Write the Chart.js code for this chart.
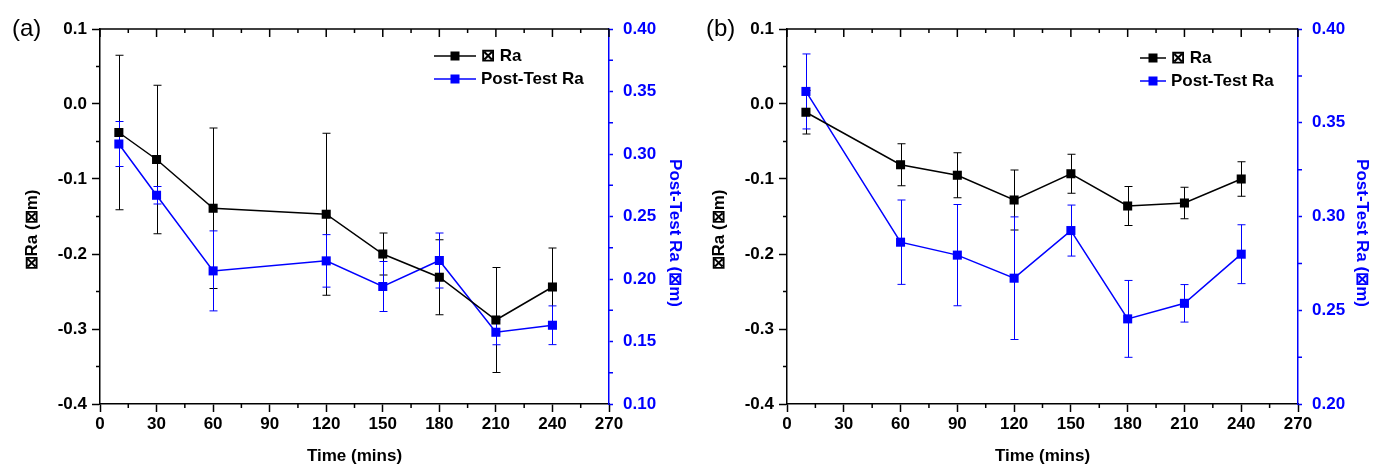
<!DOCTYPE html>
<html>
<head>
<meta charset="utf-8">
<script src="https://cdn.jsdelivr.net/npm/chart.js@4.4.1/dist/chart.umd.min.js"></script>
<style>
  html, body { margin: 0; padding: 0; background: #fff; overflow: hidden; }
  #wrap { position: relative; width: 1373px; height: 464px; }
  canvas { position: absolute; top: 0; }
  #chartA { left: 0; }
  #chartB { left: 687px; }
</style>
</head>
<body>
<div id="wrap">
  <canvas id="chartA" width="686" height="464"></canvas>
  <canvas id="chartB" width="686" height="464"></canvas>
</div>
<script>
// data
const timesA = [10, 30, 60, 120, 150, 180, 210, 240];
const deltaRaA = [-0.038, -0.074, -0.139, -0.147, -0.200, -0.231, -0.288, -0.244];
const deltaRaErrA = [0.103, 0.099, 0.107, 0.108, 0.028, 0.050, 0.070, 0.052];
const postRaA = [0.308, 0.267, 0.2065, 0.2145, 0.194, 0.2148, 0.1574, 0.163];
const postRaErrA = [0.018, 0.007, 0.032, 0.021, 0.020, 0.022, 0.010, 0.0155];

const timesB = [10, 60, 90, 120, 150, 180, 210, 240];
const deltaRaB = [-0.011, -0.081, -0.095, -0.128, -0.093, -0.136, -0.132, -0.100];
const deltaRaErrB = [0.029, 0.028, 0.030, 0.040, 0.026, 0.026, 0.021, 0.023];
const postRaB = [0.3667, 0.2863, 0.2794, 0.2671, 0.2925, 0.2454, 0.2537, 0.2799];
const postRaErrB = [0.020, 0.0225, 0.027, 0.0327, 0.0136, 0.0205, 0.010, 0.0157];

const xTickValues = [0, 30, 60, 90, 120, 150, 180, 210, 240, 270];
const leftTickValues = [-0.4, -0.3, -0.2, -0.1, 0.0, 0.1];
const rightTickValuesA = [0.10, 0.15, 0.20, 0.25, 0.30, 0.35, 0.40];
const rightTickValuesB = [0.20, 0.25, 0.30, 0.35, 0.40];

const BLUE = '#0000ff';
const FONT = '"Liberation Sans", Arial, sans-serif';

function mids(arr) {
  const out = [];
  for (let i = 0; i < arr.length - 1; i++) out.push((arr[i] + arr[i + 1]) / 2);
  return out;
}

const decorPlugin = {
  id: 'decor',
  beforeDatasetsDraw(chart) {
    const ctx = chart.ctx;
    chart.data.datasets.forEach((ds, di) => {
      const meta = chart.getDatasetMeta(di);
      const ys = chart.scales[ds.yAxisID];
      ctx.save();
      ctx.strokeStyle = ds.borderColor;
      ctx.lineWidth = 1;
      meta.data.forEach((pt, i) => {
        const v = ds.data[i].y, e = ds.errors[i];
        const x = Math.round(pt.x) + 0.5;
        const y1 = ys.getPixelForValue(v + e), y2 = ys.getPixelForValue(v - e);
        ctx.beginPath();
        ctx.moveTo(x, y1); ctx.lineTo(x, y2);
        ctx.moveTo(x - 4, y1); ctx.lineTo(x + 4, y1);
        ctx.moveTo(x - 4, y2); ctx.lineTo(x + 4, y2);
        ctx.stroke();
      });
      ctx.restore();
    });
  },
  afterDraw(chart, args, opts) {
    const ctx = chart.ctx;
    const { left, right, top, bottom } = chart.chartArea;
    const xs = chart.scales.x, yl = chart.scales.yL, yr = chart.scales.yR;
    ctx.save();
    // top frame with inward ticks
    ctx.strokeStyle = '#000';
    ctx.lineWidth = 1.5;
    ctx.beginPath();
    ctx.moveTo(left, top); ctx.lineTo(right, top);
    xTickValues.forEach(v => { const x = xs.getPixelForValue(v); ctx.moveTo(x, top); ctx.lineTo(x, top + 8); });
    mids(xTickValues).forEach(v => { const x = xs.getPixelForValue(v); ctx.moveTo(x, top); ctx.lineTo(x, top + 4); });
    // minor ticks bottom / left
    mids(xTickValues).forEach(v => { const x = xs.getPixelForValue(v); ctx.moveTo(x, bottom); ctx.lineTo(x, bottom + 4); });
    mids(leftTickValues).forEach(v => { const y = yl.getPixelForValue(v); ctx.moveTo(left, y); ctx.lineTo(left - 4, y); });
    ctx.stroke();
    ctx.strokeStyle = BLUE;
    ctx.beginPath();
    mids(opts.rightTicks).forEach(v => { const y = yr.getPixelForValue(v); ctx.moveTo(right, y); ctx.lineTo(right + 4, y); });
    ctx.stroke();

    // legend
    ctx.font = 'bold 17px ' + FONT;
    ctx.textBaseline = 'middle';
    ctx.textAlign = 'left';
    chart.data.datasets.forEach((ds, i) => {
      const y = opts.legendY[i];
      ctx.strokeStyle = ds.borderColor;
      ctx.lineWidth = 1.5;
      ctx.beginPath();
      ctx.moveTo(opts.legendX, y); ctx.lineTo(opts.legendX + opts.legendLen, y);
      ctx.stroke();
      ctx.fillStyle = ds.borderColor;
      const cx = opts.legendX + opts.legendLen / 2;
      ctx.fillRect(cx - 4.5, y - 4.5, 9, 9);
      ctx.fillStyle = '#000';
      ctx.fillText(ds.label, opts.legendX + opts.legendLen + 5, y);
    });

    // y axis titles
    ctx.textAlign = 'center';
    ctx.fillStyle = '#000';
    ctx.save();
    ctx.translate(32, 230);
    ctx.rotate(-Math.PI / 2);
    ctx.fillText('\u22a0Ra (\u22a0m)', 0, 0);
    ctx.restore();
    ctx.fillStyle = BLUE;
    ctx.save();
    ctx.translate(675, 233);
    ctx.rotate(Math.PI / 2);
    ctx.fillText('Post-Test Ra (\u22a0m)', 0, 0);
    ctx.restore();

    // panel label
    ctx.fillStyle = '#000';
    ctx.font = '24px ' + FONT;
    ctx.textAlign = 'left';
    ctx.fillText(opts.panel, opts.panelX, 29);
    ctx.restore();
  }
};

function makeChart(id, times, dRa, dErr, pRa, pErr, rightTicks, decor) {
  const tickFont = { family: FONT, size: 17, weight: 'bold' };
  return new Chart(document.getElementById(id), {
    type: 'line',
    data: {
      datasets: [
        {
          label: '\u22a0 Ra',
          data: times.map((t, i) => ({ x: t, y: dRa[i] })),
          errors: dErr,
          yAxisID: 'yL',
          borderColor: '#000',
          backgroundColor: '#000',
          borderWidth: 1.5,
          pointStyle: 'rect',
          pointRadius: 6.4,
          pointBorderWidth: 0,
          tension: 0
        },
        {
          label: 'Post-Test Ra',
          data: times.map((t, i) => ({ x: t, y: pRa[i] })),
          errors: pErr,
          yAxisID: 'yR',
          borderColor: BLUE,
          backgroundColor: BLUE,
          borderWidth: 1.5,
          pointStyle: 'rect',
          pointRadius: 6.4,
          pointBorderWidth: 0,
          tension: 0
        }
      ]
    },
    options: {
      responsive: false,
      animation: false,
      layout: { padding: { top: 29, left: 0, right: 0, bottom: 0 } },
      plugins: { legend: { display: false }, tooltip: { enabled: false }, decor: decor },
      scales: {
        x: {
          type: 'linear', position: 'bottom',
          min: xTickValues[0], max: xTickValues[xTickValues.length - 1],
          afterBuildTicks: s => { s.ticks = xTickValues.map(v => ({ value: v })); },
          afterFit: s => { s.height = 60; },
          ticks: { font: tickFont, color: '#000', padding: 2, maxRotation: 0, autoSkip: false },
          grid: { drawOnChartArea: false, drawTicks: true, tickLength: 8, tickColor: '#000', tickWidth: 1.5 },
          border: { color: '#000', width: 1.5 },
          title: { display: true, text: 'Time (mins)', font: { family: FONT, size: 17, weight: 'bold', lineHeight: 1 }, color: '#000', padding: { top: 0, bottom: -1 } }
        },
        yL: {
          type: 'linear', position: 'left',
          min: leftTickValues[0], max: leftTickValues[leftTickValues.length - 1],
          afterBuildTicks: s => { s.ticks = leftTickValues.map(v => ({ value: v })); },
          afterFit: s => { s.width = 100; },
          ticks: { font: tickFont, color: '#000', padding: 5, callback: v => v.toFixed(1) },
          grid: { drawOnChartArea: false, drawTicks: true, tickLength: 8, tickColor: '#000', tickWidth: 1.5 },
          border: { color: '#000', width: 1.5 }
        },
        yR: {
          type: 'linear', position: 'right',
          min: rightTicks[0], max: rightTicks[rightTicks.length - 1],
          afterBuildTicks: s => { s.ticks = rightTicks.map(v => ({ value: v })); },
          afterFit: s => { s.width = decor.rightWidth; },
          ticks: { font: tickFont, color: BLUE, padding: 10, callback: v => v.toFixed(2) },
          grid: { drawOnChartArea: false, drawTicks: true, tickLength: 4, tickColor: BLUE, tickWidth: 1.5 },
          border: { color: BLUE, width: 1.5 }
        }
      }
    },
    plugins: [decorPlugin]
  });
}

makeChart('chartA', timesA, deltaRaA, deltaRaErrA, postRaA, postRaErrA, rightTickValuesA,
  { panel: '(a)', panelX: 12, legendX: 434, legendLen: 42, legendY: [56, 79], rightWidth: 77, rightTicks: rightTickValuesA });
makeChart('chartB', timesB, deltaRaB, deltaRaErrB, postRaB, postRaErrB, rightTickValuesB,
  { panel: '(b)', panelX: 19, legendX: 453, legendLen: 26, legendY: [58, 81], rightWidth: 75, rightTicks: rightTickValuesB });
</script>
</body>
</html>
